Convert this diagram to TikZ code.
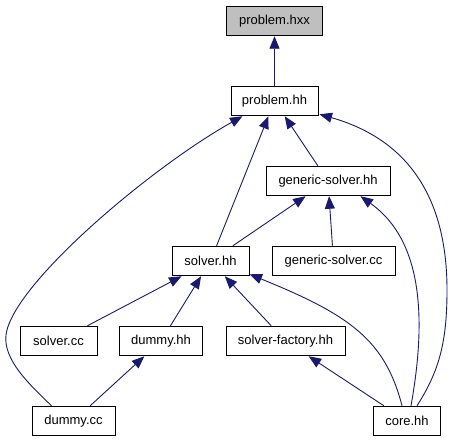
\documentclass[tikz,border=0pt]{standalone}
\usepackage{fontspec}
\setmainfont{Liberation Sans}
\usetikzlibrary{arrows.meta,calc}
\definecolor{navy}{RGB}{25,25,112}
\definecolor{boxgray}{RGB}{191,191,191}
\tikzset{
  filebox/.style={draw=black, line width=1pt, fill=white, minimum height=29.5pt, inner sep=0pt, font=\fontsize{13}{15}\selectfont},
  edge/.style={draw=navy, line width=0.9pt, -{Triangle[length=12.5pt,width=10pt]}},
}
\begin{document}
\begin{tikzpicture}[x=1pt,y=-1pt]
\useasboundingbox (0,0) rectangle (457,443);
\node[filebox, fill=boxgray, minimum width=95.5pt] (pxx) at (274.5,21) {problem.hxx};
\node[filebox, minimum width=87pt] (phh) at (274.5,101) {problem.hh};
\node[filebox, minimum width=124pt] (gshh) at (328,181) {generic-solver.hh};
\node[filebox, minimum width=77pt] (shh) at (210.5,261) {solver.hh};
\node[filebox, minimum width=123pt] (gscc) at (333.5,261) {generic-solver.cc};
\node[filebox, minimum width=77pt] (scc) at (58.5,341) {solver.cc};
\node[filebox, minimum width=83pt] (dhh) at (161,341) {dummy.hh};
\node[filebox, minimum width=119pt] (sfhh) at (285.5,341) {solver-factory.hh};
\node[filebox, minimum width=83pt] (dcc) at (73.5,421) {dummy.cc};
\node[filebox, minimum width=67pt] (core) at (407,421) {core.hh};

\draw[edge] (phh) -- (pxx);
\draw[edge] (gshh) -- (phh);
\draw[edge] (shh) -- (phh);
\draw[edge] (shh) -- (gshh);
\draw[edge] (gscc) -- (gshh);
\draw[edge] (scc) -- (shh);
\draw[edge] (dhh) -- (shh);
\draw[edge] (sfhh) -- (shh);
\draw[edge] (dcc) -- (dhh);
\draw[edge] (core) -- (sfhh);
\draw[edge] ($(dcc.north west)+(20,0)$) .. controls (30,385) and (3,360) .. (6,335)
  .. controls (12,285) and (150,168) .. ($(phh.south west)+(12,0)$);
\draw[edge] ($(core.north)+(10,0)$) .. controls (440,370) and (447,340) .. (447,290)
  .. controls (447,200) and (410,140) .. ($(phh.south east)+(1,-2)$);
\draw[edge] ($(core.north)+(4,0)$) .. controls (430,300) and (415,235) .. ($(gshh.south east)+(-30,0)$);
\draw[edge] ($(core.north)+(-5,0)$) .. controls (385,340) and (350,315) .. ($(shh.south east)+(0,-2)$);
\end{tikzpicture}
\end{document}
